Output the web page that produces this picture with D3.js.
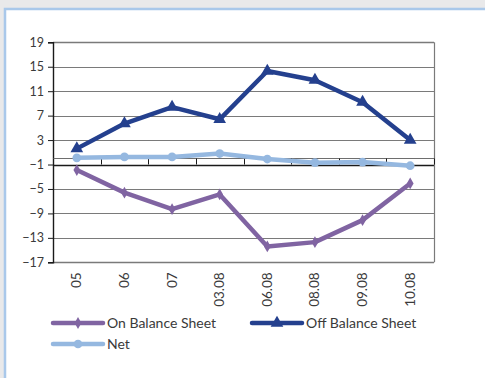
<!DOCTYPE html>
<html>
<head>
<meta charset="utf-8">
<script src="https://cdn.jsdelivr.net/npm/d3@7"></script>
<style>
  html, body { margin: 0; padding: 0; background: #e9e9ea; }
  svg { display: block; }
</style>
</head>
<body>
<svg id="chart" width="485" height="378"></svg>
<script>
// Balance sheet exposure by period
const categories = ["05", "06", "07", "03.08", "06.08", "08.08", "09.08", "10.08"];
const onBalance  = [-1.9, -5.6, -8.3, -5.9, -14.4, -13.7, -10.1, -4.1];
const offBalance = [1.6, 5.7, 8.4, 6.4, 14.3, 12.8, 9.2, 3.0];
const net        = [0.1, 0.25, 0.25, 0.8, -0.1, -0.7, -0.6, -1.2];
const yTicks     = [19, 15, 11, 7, 3, -1, -5, -9, -13, -17];

const series = [
  { name: "On Balance Sheet",  values: onBalance,  color: "#8064a2", marker: "diamond" },
  { name: "Off Balance Sheet", values: offBalance, color: "#24408e", marker: "triangle" },
  { name: "Net",               values: net,        color: "#95b8e0", marker: "circle" }
];

const svg = d3.select("#chart");
const font = "Lato, 'Noto Sans', sans-serif";
const textColor = "#3a3a3a";

// frame panel
svg.append("rect").attr("x", 5).attr("y", 9).attr("width", 490).attr("height", 380)
  .attr("fill", "#ffffff").attr("stroke", "#a9c8ea").attr("stroke-width", 2.5);

const plot = { left: 53, right: 434, top: 42.3, bottom: 262.3 };

const x = d3.scaleBand().domain(categories).range([plot.left, plot.right]);
const y = d3.scaleLinear().domain([-17, 19]).range([plot.bottom, plot.top]);

// horizontal gridlines
svg.append("g").selectAll("line").data(yTicks).join("line")
  .attr("x1", plot.left).attr("x2", plot.right)
  .attr("y1", d => Math.round(y(d)) + 0.5).attr("y2", d => Math.round(y(d)) + 0.5)
  .attr("stroke", d => (d === -1 ? "#1a1a1a" : "#7a7a7a"))
  .attr("stroke-width", d => (d === -1 || d === 19 || d === -17 ? 1.4 : 1.1));

// plot border right
svg.append("line").attr("x1", plot.right + 0.5).attr("x2", plot.right + 0.5)
  .attr("y1", plot.top).attr("y2", plot.bottom).attr("stroke", "#7a7a7a").attr("stroke-width", 1.2);

// value axis
const yAxis = d3.axisLeft(y).tickValues(yTicks).tickSize(5).tickPadding(4).tickFormat(d3.format("d"));
const gy = svg.append("g").attr("transform", `translate(${plot.left},0)`).call(yAxis);
gy.select(".domain").attr("stroke", "#1a1a1a").attr("stroke-width", 1.4);
gy.selectAll(".tick line").attr("stroke", "#1a1a1a");
gy.selectAll(".tick text").attr("font-family", font).attr("font-size", 12.5).attr("fill", textColor);

// category axis line at zero with boundary ticks
const zeroY = Math.round(y(0)) + 0.5;
svg.append("line").attr("x1", plot.left).attr("x2", plot.right)
  .attr("y1", zeroY).attr("y2", zeroY).attr("stroke", "#6e6e6e").attr("stroke-width", 1.1);
const bounds = d3.range(categories.length + 1).map(i => plot.left + i * x.bandwidth());
svg.append("g").selectAll("line").data(bounds).join("line")
  .attr("x1", d => Math.round(d) + 0.5).attr("x2", d => Math.round(d) + 0.5)
  .attr("y1", zeroY).attr("y2", y(-1))
  .attr("stroke", "#1a1a1a").attr("stroke-width", 1);

// category labels along the bottom, rotated
svg.append("g").selectAll("text").data(categories).join("text")
  .attr("transform", d => `translate(${x(d) + x.bandwidth() / 2 + 4.5},${plot.bottom + 10}) rotate(-90)`)
  .attr("text-anchor", "end")
  .attr("font-family", font).attr("font-size", 13.5).attr("fill", textColor)
  .text(d => d);

// marker shapes
const symbolFor = m => m === "diamond" ? d3.symbol().type(d3.symbolDiamond).size(40)
  : m === "triangle" ? d3.symbol().type(d3.symbolTriangle).size(70)
  : d3.symbol().type(d3.symbolCircle).size(60);

const line = d3.line().x((d, i) => x(categories[i]) + x.bandwidth() / 2).y(d => y(d));

// draw Net first, then On, then Off on top
[series[2], series[0], series[1]].forEach(s => {
  const g = svg.append("g");
  g.append("path").datum(s.values).attr("d", line)
    .attr("fill", "none").attr("stroke", s.color).attr("stroke-width", 4.5)
    .attr("stroke-linejoin", "round");
  g.selectAll("path.m").data(s.values).join("path").attr("class", "m")
    .attr("transform", (d, i) => `translate(${x(categories[i]) + x.bandwidth() / 2},${y(d)})`)
    .attr("d", symbolFor(s.marker)())
    .attr("fill", s.color);
});

// legend
const legendItems = [
  { s: series[0], x: 53,  y: 323 },
  { s: series[1], x: 252, y: 323 },
  { s: series[2], x: 53,  y: 344 }
];
legendItems.forEach(({ s, x: lx, y: ly }) => {
  const g = svg.append("g");
  g.append("line").attr("x1", lx).attr("x2", lx + 50).attr("y1", ly).attr("y2", ly)
    .attr("stroke", s.color).attr("stroke-width", 4.5).attr("stroke-linecap", "round");
  g.append("path").attr("transform", `translate(${lx + 25},${ly})`)
    .attr("d", symbolFor(s.marker)()).attr("fill", s.color);
  g.append("text").attr("x", lx + 54).attr("y", ly + 5)
    .attr("font-family", font).attr("font-size", 14).attr("fill", textColor)
    .text(s.name);
});
</script>
</body>
</html>
